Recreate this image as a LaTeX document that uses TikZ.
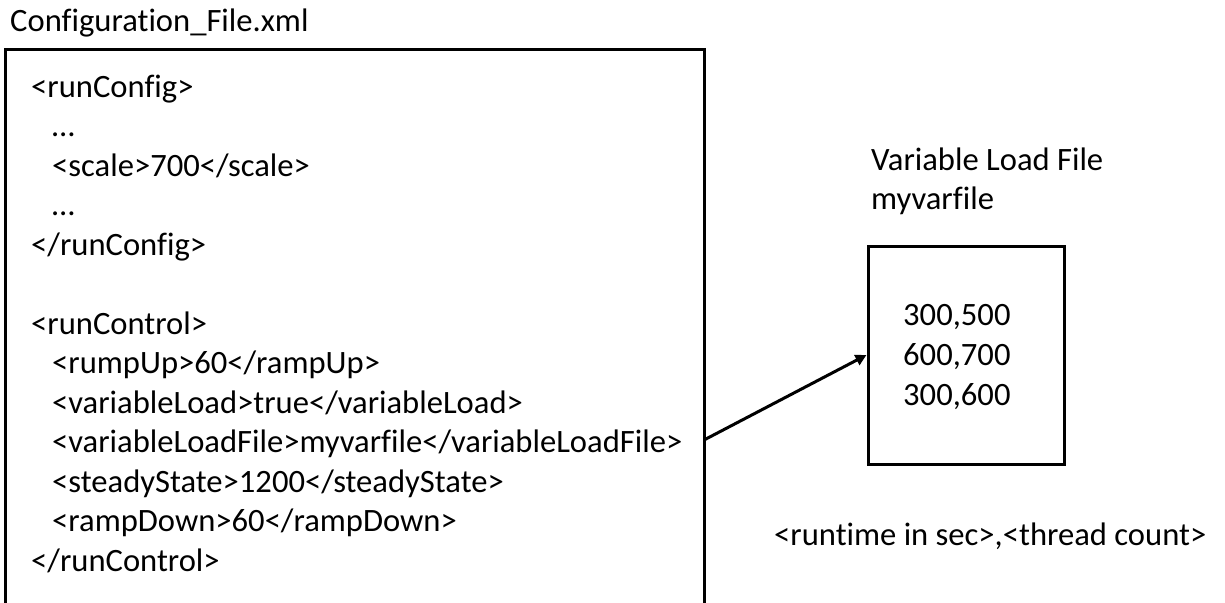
\documentclass[tikz,border=0pt]{standalone}
\usepackage{fontspec}
\setmainfont{Carlito}[Ligatures=NoCommon]
\usetikzlibrary{arrows.meta}
\tikzset{
  txt/.style={inner sep=0pt, anchor=base west, font=\fontsize{32.6}{39.5}\selectfont},
  frame/.style={line width=3pt, draw=black},
  link/.style={line width=3pt, -{Triangle[length=11pt,width=11pt]}}
}
\begin{document}
\begin{tikzpicture}[x=1pt,y=-1pt]
\useasboundingbox (0,0) rectangle (1225,602);

% configuration file caption and its (open-bottom) frame
\node[txt] (cfgtitle) at (10,32) {Configuration\_File.xml};
\draw[frame] (5,604) -- (5,50) -- (704,50) -- (704,604);
\coordinate (src) at (704,440);

% xml listing, one line every 39.5pt
\node[txt] (c1)  at (31,97)    {<runConfig>};
\node[txt] (c2)  at (52,136.5) {…};
\node[txt] (c3)  at (52,176)   {<scale>700</scale>};
\node[txt] (c4)  at (52,215.5) {…};
\node[txt] (c5)  at (31,255)   {</runConfig>};
\node[txt] (c6)  at (31,334)   {<runControl>};
\node[txt] (c7)  at (52,373.5) {<rumpUp>60</rampUp>};
\node[txt] (c8)  at (52,413)   {<variableLoad>true</variableLoad>};
\node[txt] (c9)  at (52,452.5) {<variableLoadFile>myvarfile</variableLoadFile>};
\node[txt] (c10) at (52,492)   {<steadyState>1200</steadyState>};
\node[txt] (c11) at (52,531.5) {<rampDown>60</rampDown>};
\node[txt] (c12) at (31,571)   {</runControl>};

% variable load file
\node[txt] (vltitle) at (871,170) {Variable Load File};
\node[txt] (vlname)  at (871,209) {myvarfile};
\node[frame, minimum width=196pt, minimum height=218pt, inner sep=0pt] (loadbox) at (966,355) {};
\node[txt] (v1) at (903,325) {300,500};
\node[txt] (v2) at (903,365) {600,700};
\node[txt] (v3) at (903,405) {300,600};

\node[txt] (fmt) at (774,545) {<runtime in sec>,<thread count>};

\draw[link] (src) -- (loadbox.west);
\end{tikzpicture}
\end{document}
